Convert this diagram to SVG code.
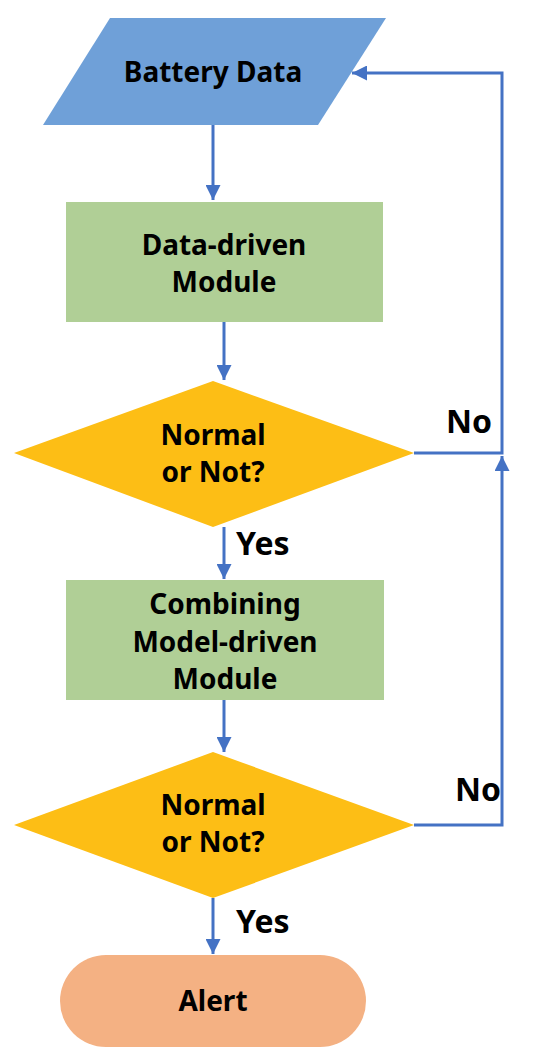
<svg xmlns="http://www.w3.org/2000/svg" width="550" height="1057" viewBox="0 0 550 1057">
<defs>
<marker id="ah" viewBox="0 0 10 10" refX="10" refY="5" markerWidth="5" markerHeight="5" markerUnits="strokeWidth" orient="auto">
<path d="M0,0 L10,5 L0,10 z" fill="#4472C4"/>
</marker>
<style>
.t{font-family:"Noto Sans","Open Sans","Liberation Sans",sans-serif;font-weight:bold;font-size:28px;fill:#000;text-anchor:middle}
.lbl{font-family:"Noto Sans","Open Sans","Liberation Sans",sans-serif;font-weight:bold;font-size:32px;fill:#000}
.c{fill:none;stroke:#4472C4;stroke-width:3}
</style>
</defs>
<rect width="550" height="1057" fill="#fff"/>
<g id="connectors">
<line class="c" x1="213" y1="125" x2="213" y2="200" marker-end="url(#ah)"/>
<line class="c" x1="224" y1="322" x2="224" y2="380" marker-end="url(#ah)"/>
<line class="c" x1="224" y1="527" x2="224" y2="579" marker-end="url(#ah)"/>
<line class="c" x1="224" y1="700" x2="224" y2="752" marker-end="url(#ah)"/>
<line class="c" x1="213" y1="898" x2="213" y2="954" marker-end="url(#ah)"/>
<polyline class="c" points="414,453 502,453 502,73 352,73" marker-end="url(#ah)"/>
<polyline class="c" points="414,825 502,825 502,456" marker-end="url(#ah)"/>
<text class="lbl" x="446" y="433">No</text>
<text class="lbl" x="455" y="801">No</text>
<text class="lbl" x="236" y="555">Yes</text>
<text class="lbl" x="236" y="933">Yes</text>
</g>
<g id="battery-data">
<polygon points="110,18 386,18 318,125 43,125" fill="#6FA0D8"/>
<text class="t" x="213" y="82">Battery Data</text>
</g>
<g id="data-driven">
<rect x="66" y="202" width="317" height="120" fill="#B0CF96"/>
<text class="t" x="224" y="255">Data-driven</text>
<text class="t" x="224" y="292">Module</text>
</g>
<g id="decision1">
<polygon points="213,381 414,453 213,527 14,453" fill="#FDBE15"/>
<text class="t" x="213" y="445">Normal</text>
<text class="t" x="213" y="482">or Not?</text>
</g>
<g id="combining">
<rect x="66" y="580" width="318" height="120" fill="#B0CF96"/>
<text class="t" x="225" y="614">Combining</text>
<text class="t" x="225" y="652">Model-driven</text>
<text class="t" x="225" y="689">Module</text>
</g>
<g id="decision2">
<polygon points="213,752 414,825 213,898 14,825" fill="#FDBE15"/>
<text class="t" x="213" y="815">Normal</text>
<text class="t" x="213" y="852">or Not?</text>
</g>
<g id="alert">
<rect x="60" y="955" width="306" height="92" rx="46" ry="46" fill="#F4B183"/>
<text class="t" x="213" y="1011">Alert</text>
</g>
</svg>
